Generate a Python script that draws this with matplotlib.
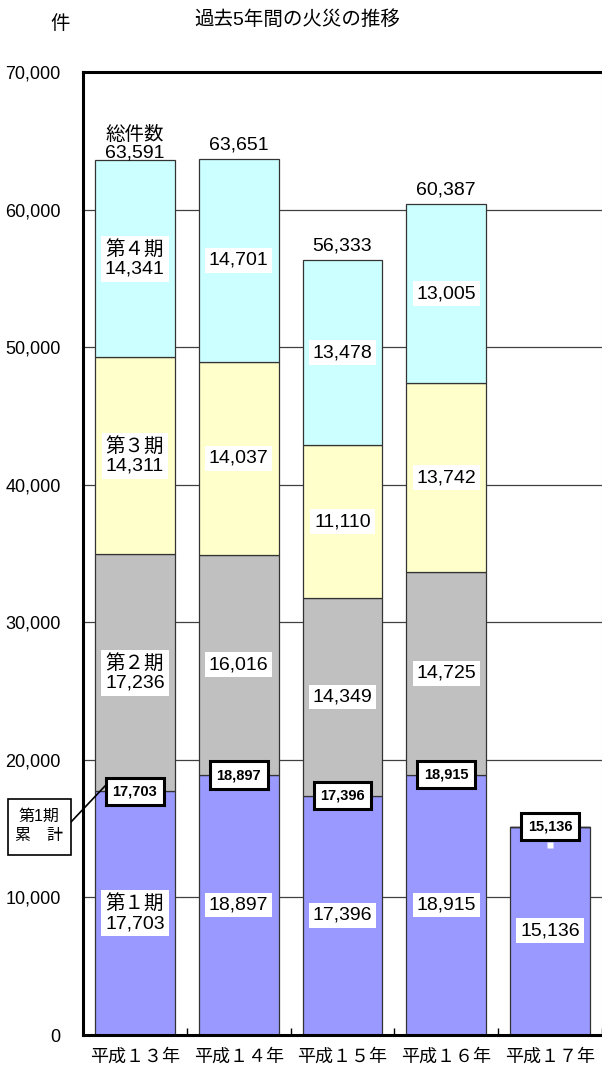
import matplotlib
matplotlib.use("Agg")
import matplotlib.pyplot as plt
import numpy as np

plt.rcParams["font.family"] = ["Liberation Sans", "Noto Sans CJK JP", "DejaVu Sans"]

years = ["平成１３年", "平成１４年", "平成１５年", "平成１６年", "平成１７年"]
q1 = [17703, 18897, 17396, 18915, 15136]
q2 = [17236, 16016, 14349, 14725, 0]
q3 = [14311, 14037, 11110, 13742, 0]
q4 = [14341, 14701, 13478, 13005, 0]
totals = [63591, 63651, 56333, 60387]
quarter_names = ["第１期", "第２期", "第３期", "第４期"]
y_ticks = [0, 10000, 20000, 30000, 40000, 50000, 60000, 70000]

colors = ["#9999FF", "#C0C0C0", "#FFFFCC", "#CCFFFF"]

fig = plt.figure(figsize=(6.02, 10.77), dpi=100)
ax = fig.add_axes([83 / 602, 1 - 1035 / 1077, 519 / 602, 963 / 1077])

x = np.arange(len(years))
width = 80 / 104
series = [q1, q2, q3, q4]
bottom = np.zeros(len(years))
box = dict(boxstyle="square,pad=0.2", fc="white", ec="none")
for qi, vals in enumerate(series):
    vals = np.array(vals, dtype=float)
    ax.bar(x, vals, width, bottom=bottom, color=colors[qi],
           edgecolor="#333333", linewidth=0.9, zorder=2)
    for i, v in enumerate(vals):
        if v <= 0:
            continue
        label = f"{int(v):,}"
        if i == 0:
            label = f"{quarter_names[qi]}\n{label}"
        ax.text(x[i], bottom[i] + v / 2, label, ha="center", va="center",
                fontsize=14, linespacing=1.15, bbox=box, zorder=4)
    bottom += vals

# boxed cumulative 1st-quarter labels
for i, v in enumerate(q1):
    ax.text(x[i], v, f"{v:,}", ha="center", va="center", fontsize=10.5,
            fontweight="bold", zorder=5,
            bbox=dict(boxstyle="square,pad=0.45", fc="white", ec="black", lw=2.2))
ax.plot([x[4]], [q1[4] - 1300], marker="s", ms=5, color="white",
        mec="none", zorder=5)

# total labels
for i, t in enumerate(totals):
    if i == 0:
        ax.annotate(f"総件数\n{t:,}", (x[i], t), xytext=(0, -1),
                    textcoords="offset points", ha="center", va="bottom",
                    fontsize=14, linespacing=1.05, zorder=3)
    else:
        ax.annotate(f"{t:,}", (x[i], t), xytext=(0, 4),
                    textcoords="offset points", ha="center", va="bottom",
                    fontsize=14)

ax.set_xlim(-0.5, 4.5)
ax.set_ylim(0, 70000)
ax.set_yticks(y_ticks)
ax.set_yticklabels([f"{v:,}" for v in y_ticks], fontsize=13)
ax.yaxis.grid(True, color="#404040", linewidth=0.9, zorder=0)
ax.set_axisbelow(True)
ax.tick_params(axis="y", length=0, pad=16)
ax.set_xticks(x)
ax.set_xticklabels(years, fontsize=13)
ax.tick_params(axis="x", length=0, pad=10)
ax.set_xticks(np.arange(-0.5, 5.0, 1.0), minor=True)
ax.tick_params(axis="x", which="minor", direction="in", length=5, width=1)

for side in ["left", "top", "bottom"]:
    ax.spines[side].set_linewidth(2.2)
ax.spines["right"].set_linewidth(0.8)
ax.spines["right"].set_color("#CCCCCC")

fig.text(297 / 602, 1 - 20 / 1077, "過去5年間の火災の推移", ha="center",
         va="center", fontsize=14)
fig.text(60 / 602, 1 - 24 / 1077, "件", ha="center", va="center", fontsize=14)

# callout box
fig.patches.append(plt.Rectangle((8 / 602, 1 - 855 / 1077), 63 / 602, 56 / 1077,
                                 transform=fig.transFigure, fc="white",
                                 ec="black", lw=1.2, zorder=3))
fig.text(39 / 602, 1 - 826 / 1077, "第1期\n累　計", ha="center", va="center",
         fontsize=11.5, linespacing=1.35, zorder=4)
fig.lines.append(plt.Line2D([71 / 602, 105 / 602], [1 - 822 / 1077, 1 - 786 / 1077],
                            transform=fig.transFigure, color="black", lw=1.2))

fig.savefig("out.png", dpi=100)
